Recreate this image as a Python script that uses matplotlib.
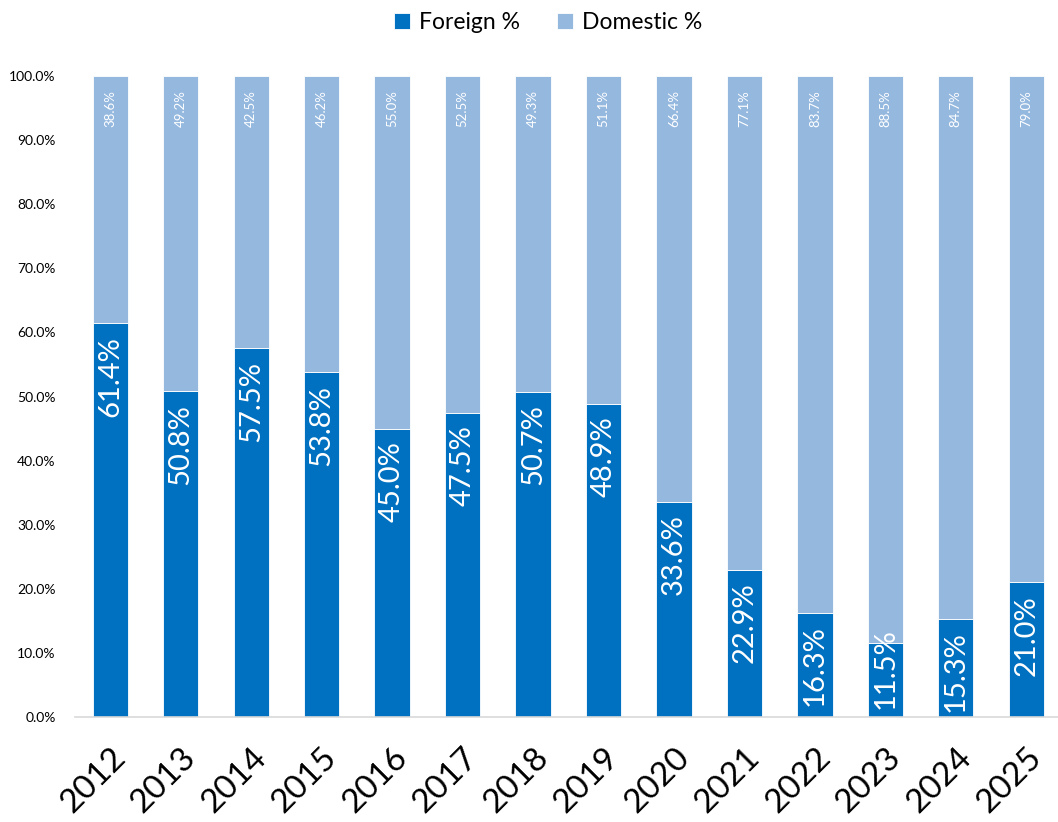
import matplotlib.pyplot as plt
import numpy as np

years = ['2012', '2013', '2014', '2015', '2016', '2017', '2018',
         '2019', '2020', '2021', '2022', '2023', '2024', '2025']
foreign = [61.4, 50.8, 57.5, 53.8, 45.0, 47.5, 50.7, 48.9, 33.6, 22.9, 16.3, 11.5, 15.3, 21.0]
domestic = [38.6, 49.2, 42.5, 46.2, 55.0, 52.5, 49.3, 51.1, 66.4, 77.1, 83.7, 88.5, 84.7, 79.0]

c_for = '#0070C0'
c_dom = '#95B8DF'

plt.rcParams['font.family'] = ['Lato', 'DejaVu Sans']

fig = plt.figure(figsize=(10.58, 8.22), dpi=100)
ax = fig.add_axes([75 / 1058, 1 - 717 / 822, 983 / 1058, 641 / 822])

x = np.arange(len(years))
ax.bar(x, foreign, width=0.5, color=c_for, edgecolor='white', linewidth=0.6, label='Foreign %')
ax.bar(x, domestic, width=0.5, bottom=foreign, color=c_dom, edgecolor='white', linewidth=0.6,
       label='Domestic %')

for i in range(len(years)):
    if foreign[i] < 13:
        ax.annotate(f'{foreign[i]:.1f}%', (x[i], 0), xytext=(0, 6), textcoords='offset points',
                    rotation=90, ha='center', va='bottom', color='white', fontsize=21)
    else:
        ax.annotate(f'{foreign[i]:.1f}%', (x[i], foreign[i]), xytext=(0, -9), textcoords='offset points',
                    rotation=90, ha='center', va='top', color='white', fontsize=21)
    ax.annotate(f'{domestic[i]:.1f}%', (x[i], 100), xytext=(0, -10), textcoords='offset points',
                rotation=90, ha='center', va='top', color='white', fontsize=9.5)

ax.set_ylim(0, 100)
ax.set_xlim(-0.5, 13.45)
ax.set_yticks(np.arange(0, 101, 10))
ax.set_yticklabels([f'{v:.1f}%' for v in np.arange(0, 101, 10)], fontsize=10)
ax.set_xticks(x)
ax.set_xticklabels(years, rotation=45, ha='right', rotation_mode='anchor', fontsize=24)
ax.tick_params(axis='y', length=0, pad=14)
ax.tick_params(axis='x', length=0, pad=18)

for s in ['top', 'right', 'left']:
    ax.spines[s].set_visible(False)
ax.spines['bottom'].set_color('#D9D9D9')
ax.spines['bottom'].set_linewidth(1.2)

fig.legend(loc='upper center', bbox_to_anchor=(548 / 1058, 1.01), ncol=2, frameon=False,
           fontsize=16.5, handlelength=0.7, handleheight=0.7, columnspacing=1.6, handletextpad=0.4)

plt.savefig('out.png', dpi=100)
plt.close()
